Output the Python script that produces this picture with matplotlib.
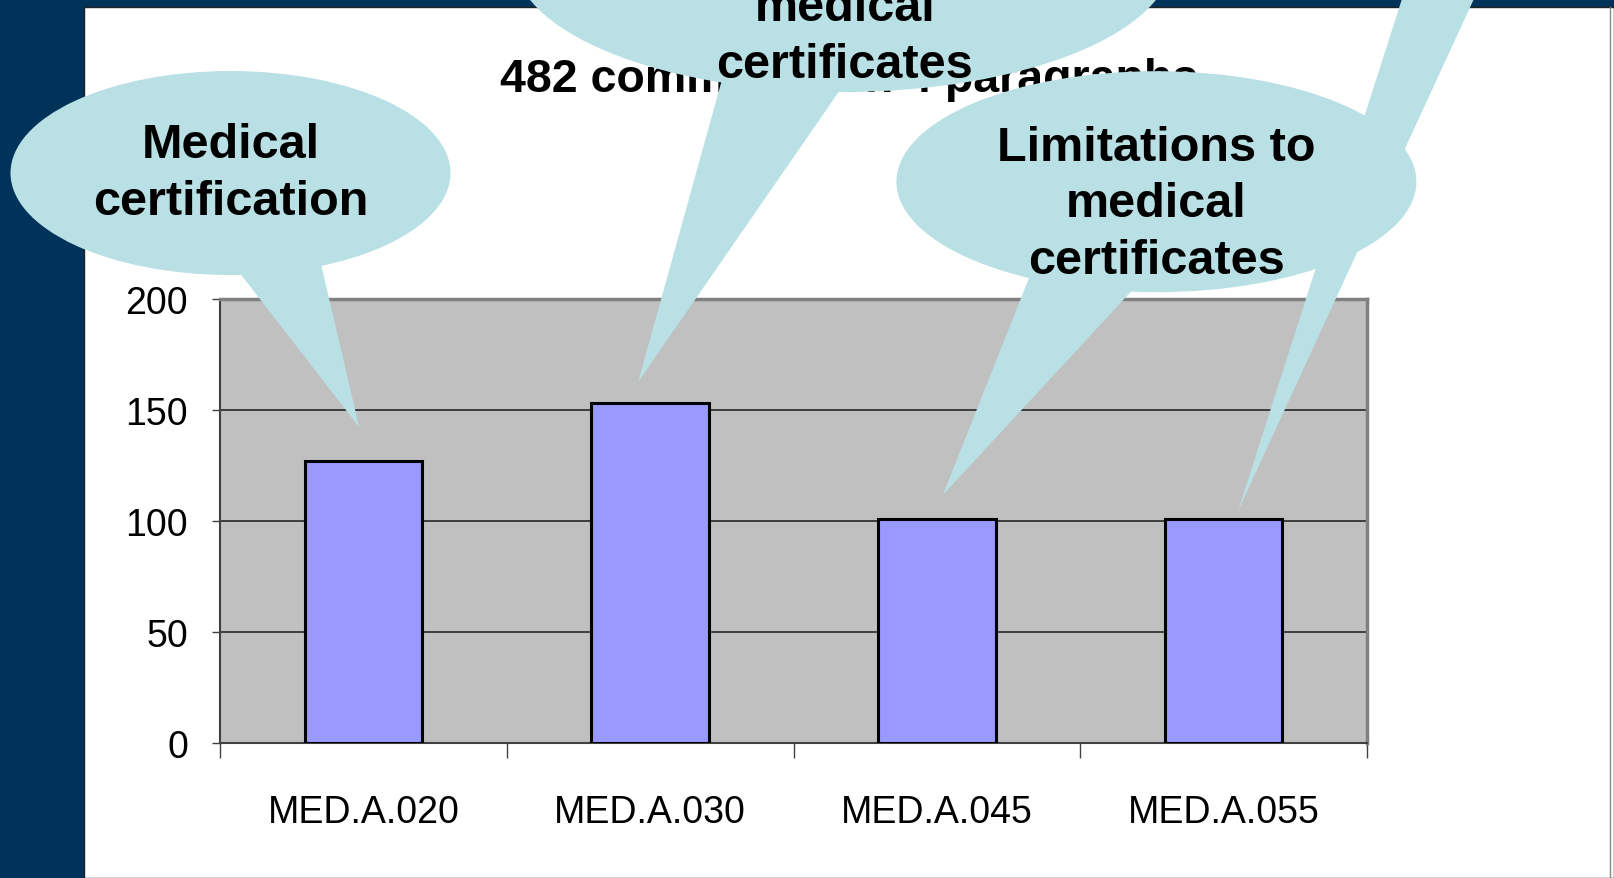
"""
Bar chart of comments per paragraph, with speech-bubble callouts
"""

import matplotlib
matplotlib.use('Agg')
import matplotlib.pyplot as plt
from matplotlib import font_manager
from matplotlib.patches import Ellipse, Polygon, Rectangle

# Data
categories = ['MED.A.020', 'MED.A.030', 'MED.A.045', 'MED.A.055']
comments = [127, 153, 101, 101]
y_ticks = [0, 50, 100, 150, 200]
title = '482 comments on 4 paragraphs'
callout_texts = ['Medical\ncertification',
                 'medical\ncertificates',
                 'Limitations to\nmedical\ncertificates']

W, H = 1614, 879
NAVY = '#00335A'
BUBBLE = '#B9E0E4'

# narrow font if available, else regular width with smaller size
installed = {f.name for f in font_manager.fontManager.ttflist}
if 'Liberation Sans Narrow' in installed:
    FAMILY = ['Liberation Sans Narrow', 'DejaVu Sans']
    BIG, TITLE, SMALL = 41, 40, 32
else:
    FAMILY = ['Liberation Sans', 'DejaVu Sans']
    BIG, TITLE, SMALL = 35, 33.5, 27
plt.rcParams['font.family'] = FAMILY


def plot_comments():
    fig = plt.figure(figsize=(W / 100, H / 100), dpi=100, facecolor=NAVY)

    # white slide panel
    panel = Rectangle((84 / W, 0), 1 - 84 / W, (H - 8) / H,
                      transform=fig.transFigure, facecolor='white',
                      edgecolor='#222222', linewidth=1, zorder=-1)
    fig.patches.append(panel)

    # chart
    ax = fig.add_axes([220 / W, 1 - 744 / H, (1367 - 220) / W, (744 - 299.5) / H])
    ax.set_facecolor('#C0C0C0')
    x = list(range(len(categories)))
    ax.bar(x, comments, width=0.41, color='#9999FF',
           edgecolor='black', linewidth=2.2, zorder=3)

    ax.set_xlim(-0.5, len(categories) - 0.5)
    ax.set_ylim(0, 200)
    ax.set_yticks(y_ticks)
    ax.yaxis.grid(True, color='#1a1a1a', linewidth=1.1)
    ax.set_axisbelow(True)

    ax.set_xticks([i - 0.5 for i in range(len(categories) + 1)])
    ax.set_xticklabels([])
    ax.set_xticks(x, labels=categories, minor=True)
    ax.tick_params(axis='x', which='major', length=11, width=1,
                   color='#404040', direction='out')
    ax.tick_params(axis='x', which='minor', length=0, pad=37, labelsize=SMALL)
    ax.tick_params(axis='y', length=6, width=1, color='#404040',
                   pad=17, labelsize=SMALL)

    for side in ['top', 'right']:
        ax.spines[side].set_color('#808080')
        ax.spines[side].set_linewidth(2.5)
    for side in ['left', 'bottom']:
        ax.spines[side].set_color('#404040')
        ax.spines[side].set_linewidth(1.5)

    # overlay in pixel coordinates for title and callouts
    ov = fig.add_axes([0, 0, 1, 1], zorder=5)
    ov.set_xlim(0, W)
    ov.set_ylim(H, 0)
    ov.axis('off')
    ov.plot([1610, 1610], [8, H], color='#888888', linewidth=1, zorder=0)

    ov.text(849, 80, title, ha='center', va='center',
            fontsize=TITLE, fontweight='bold', zorder=1)

    bubbles = [
        dict(center=(230.5, 174), w=440, h=204,
             tail=[(218.8, 247), (316.8, 247), (359.2, 428.2)],
             text_xy=(230.5, 174)),
        dict(center=(843, -41), w=659, h=268,
             tail=[(727.2, 61.8), (860.2, 61.8), (638.2, 382.9)],
             text_xy=(845, 37)),
        dict(center=(1156.4, 182.7), w=520, h=221,
             tail=[(1037.6, 257.3), (1163.6, 257.3), (942.8, 496.1)],
             text_xy=(1156, 205)),
    ]
    # tail of a bubble sitting above the slide
    ov.add_patch(Polygon([(1418.4, -51.5), (1497.6, -51.5), (1238.2, 511.6)],
                         closed=True, facecolor=BUBBLE, edgecolor='none', zorder=2))

    for b, label in zip(bubbles, callout_texts):
        ov.add_patch(Ellipse(b['center'], b['w'], b['h'],
                             facecolor=BUBBLE, edgecolor='none', zorder=2))
        ov.add_patch(Polygon(b['tail'], closed=True,
                             facecolor=BUBBLE, edgecolor='none', zorder=2))
        ov.text(*b['text_xy'], label, ha='center', va='center',
                fontsize=BIG, fontweight='bold', linespacing=1.34, zorder=3)

    fig.savefig('out.png', dpi=100, facecolor=NAVY)


if __name__ == "__main__":
    plot_comments()
